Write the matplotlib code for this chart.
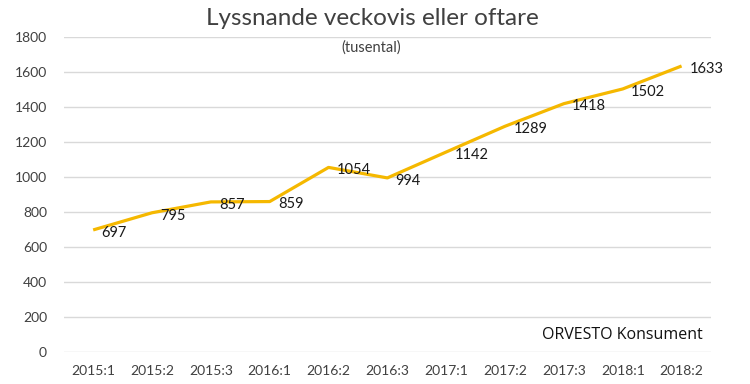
import matplotlib
matplotlib.use("Agg")
import matplotlib.pyplot as plt

# Data
categories = ["2015:1", "2015:2", "2015:3", "2016:1", "2016:2", "2016:3",
              "2017:1", "2017:2", "2017:3", "2018:1", "2018:2"]
values = [697, 795, 857, 859, 1054, 994, 1142, 1289, 1418, 1502, 1633]
yticks = [0, 200, 400, 600, 800, 1000, 1200, 1400, 1600, 1800]

plt.rcParams['font.family'] = ['Lato', 'DejaVu Sans']

fig = plt.figure(figsize=(7.5, 3.84), dpi=100)
ax = fig.add_axes([0.085, 0.0833, 0.863, 0.821])

x = list(range(len(categories)))
ax.plot(x, values, color='#F5B800', linewidth=2.3, solid_capstyle='butt', zorder=3)

for xi, v in zip(x, values):
    ax.annotate(str(v), (xi, v), xytext=(6, -2), textcoords='offset points',
                ha='left', va='center', fontsize=10.5, color='#1a1a1a', zorder=4)

ax.set_xlim(-0.5, len(categories) - 0.5)
ax.set_ylim(0, 1800)
ax.set_yticks(yticks)
ax.set_xticks(x)
ax.set_xticklabels(categories)
ax.tick_params(axis='both', length=0, labelsize=10, colors='#404040')
ax.tick_params(axis='x', pad=9)
ax.tick_params(axis='y', pad=12)
ax.grid(axis='y', color='#d9d9d9', linewidth=1)
ax.set_axisbelow(True)
for s in ax.spines.values():
    s.set_visible(False)

fig.text(0.497, 0.953, "Lyssnande veckovis eller oftare", ha='center', va='center',
         fontsize=17.5, color='#404040')
fig.text(0.495, 0.877, "(tusental)", ha='center', va='center', fontsize=10.5, color='#404040')
ax.text(0.988, 0.054, "ORVESTO Konsument", transform=ax.transAxes, ha='right', va='center',
        fontsize=11.5, color='#111111', family=['Open Sans', 'DejaVu Sans'])

fig.savefig("out.png", dpi=100)
